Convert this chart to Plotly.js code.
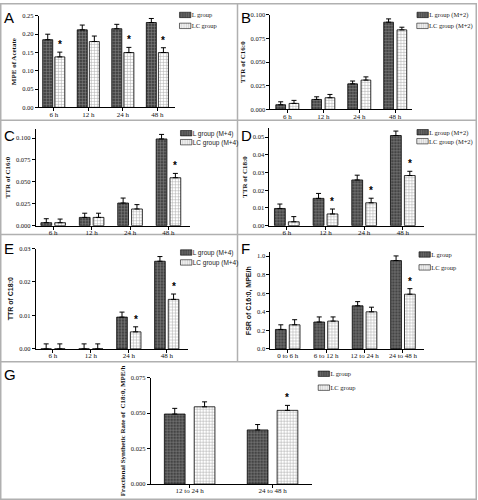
<!DOCTYPE html>
<html><head><meta charset="utf-8">
<script src="https://cdn.plot.ly/plotly-3.0.1.min.js"></script>
<style>html,body{margin:0;padding:0;background:#fff}#chart{width:478px;height:500px}</style>
</head><body><div id="chart"></div>
<script>
// ---------- data ----------
const catsTime = ['6 h', '12 h', '24 h', '48 h'];
const catsFSR = ['0 to 6 h', '6 to 12 h', '12 to 24 h', '24 to 48 h'];
const catsG = ['12 to 24 h', '24 to 48 h'];

const aL = [0.185, 0.212, 0.215, 0.232];
const aLerr = [0.015, 0.013, 0.012, 0.011];
const aLC = [0.138, 0.180, 0.150, 0.150];
const aLCerr = [0.013, 0.015, 0.014, 0.013];
const aStar = [1, 0, 1, 1];

const bL = [0.0049, 0.0105, 0.027, 0.0923];
const bLerr = [0.0031, 0.0028, 0.003, 0.0035];
const bLC = [0.0063, 0.0123, 0.031, 0.0842];
const bLCerr = [0.0032, 0.0035, 0.0034, 0.0028];
const bStar = [0, 0, 0, 0];

const cL = [0.0034, 0.0094, 0.0258, 0.0989];
const cLerr = [0.0045, 0.0048, 0.0057, 0.0052];
const cLC = [0.0034, 0.0094, 0.019, 0.0547];
const cLCerr = [0.0041, 0.0048, 0.005, 0.0049];
const cStar = [0, 0, 0, 1];

const dL = [0.0097, 0.0154, 0.0258, 0.0509];
const dLerr = [0.0025, 0.0028, 0.0027, 0.0025];
const dLC = [0.0022, 0.0066, 0.0129, 0.0283];
const dLCerr = [0.0029, 0.0028, 0.0026, 0.0024];
const dStar = [0, 1, 1, 1];

const eL = [0, 0, 0.0095, 0.0262];
const eLerr = [0.0015, 0.0015, 0.0015, 0.0014];
const eLC = [0, 0, 0.0051, 0.0148];
const eLCerr = [0.0015, 0.0015, 0.0015, 0.0016];
const eStar = [0, 0, 1, 1];

const fL = [0.21, 0.29, 0.465, 0.953];
const fLerr = [0.05, 0.055, 0.045, 0.05];
const fLC = [0.26, 0.30, 0.40, 0.59];
const fLCerr = [0.055, 0.045, 0.05, 0.06];
const fStar = [0, 0, 0, 1];

const gL = [0.0494, 0.0382];
const gLerr = [0.004, 0.0038];
const gLC = [0.0545, 0.052];
const gLCerr = [0.0035, 0.0035];
const gStar = [0, 1];

// ---------- layout helpers ----------
const W = 478, H = 500;
const px = x => x / W;
const py = y => 1 - y / H;
const SERIF = 'Liberation Serif, Times New Roman, serif';
const SANS = 'Liberation Sans, Arial, sans-serif';

const panels = [
  {id:1, letter:'A', lx:2, ly:15, cats:catsTime, L:aL, Le:aLerr, C:aLC, Ce:aLCerr, star:aStar,
   names:['L group','LC group'], lfont:SERIF, legY:[12,23], legX:192,
   xd:[39,175], yd:[13,105], xr:[-0.43,3.5], yr:[0,0.25], dt:0.05, fmt:'.2f',
   title:'MPE of Acetate', tfont:SERIF, bw:0.29, gap:0.06},
  {id:2, letter:'B', lx:240, ly:15, cats:catsTime, L:bL, Le:bLerr, C:bLC, Ce:bLCerr, star:bStar,
   names:['L group (M+2)','LC group (M+2)'], lfont:SERIF, legY:[12,23], legX:430,
   xd:[271,413], yd:[12,107], xr:[-0.47,3.47], yr:[0,0.1], dt:0.025, fmt:'.3f',
   title:'TTR of C16:0', tfont:SERIF, bw:0.27, gap:0.1},
  {id:3, letter:'C', lx:2, ly:133, cats:catsTime, L:cL, Le:cLerr, C:cLC, Ce:cLCerr, star:cStar,
   names:['L group (M+4)','LC group (M+4)'], lfont:SANS, legY:[131,140], legX:193,
   xd:[36,190], yd:[127,224], xr:[-0.45,3.55], yr:[0,0.11], dt:0.025, fmt:'.3f',
   title:'TTR of C16:0', tfont:SERIF, bw:0.28, gap:0.08},
  {id:4, letter:'D', lx:240, ly:133, cats:catsTime, L:dL, Le:dLerr, C:dLC, Ce:dLCerr, star:dStar,
   names:['L group (M+2)','LC group (M+2)'], lfont:SERIF, legY:[130,139], legX:430,
   xd:[270,425], yd:[126,224], xr:[-0.45,3.55], yr:[0,0.055], dt:0.01, fmt:'.2f',
   title:'TTR of C18:0', tfont:SERIF, bw:0.28, gap:0.08},
  {id:5, letter:'E', lx:2, ly:247, cats:catsTime, L:eL, Le:eLerr, C:eLC, Ce:eLCerr, star:eStar,
   names:['L group (M+4)','LC group (M+4)'], lfont:SANS, legY:[251,261], legX:193,
   xd:[36,188], yd:[247,348], xr:[-0.45,3.55], yr:[0,0.03], dt:0.01, fmt:'.2f',
   title:'TTR of C18:0', tfont:SANS, bw:0.28, gap:0.08},
  {id:6, letter:'F', lx:240, ly:247, cats:catsFSR, L:fL, Le:fLerr, C:fLC, Ce:fLCerr, star:fStar,
   names:['L group','LC group'], lfont:SERIF, legY:[253,266], legX:432,
   xd:[271,425], yd:[251,348], xr:[-0.45,3.55], yr:[0,1.04], dt:0.2, fmt:'.1f',
   title:'FSR of C16:0, MPE/h', tfont:SANS, bw:0.28, gap:0.08},
  {id:7, letter:'G', lx:2, ly:374, cats:catsG, L:gL, Le:gLerr, C:gLC, Ce:gLCerr, star:gStar,
   names:['L group','LC group'], lfont:SERIF, legY:[373,387], legX:331,
   xd:[151,313], yd:[377,484], xr:[-0.47,1.48], yr:[0,0.075], dt:0.025, fmt:'.3f',
   title:'Fractional Synthetic Rate of  C18:0, MPE/h', tfont:SERIF, bw:0.25, gap:0.11}
];

const data = [];
const layout = {
  width: W, height: H, margin:{l:0,r:0,t:0,b:0}, paper_bgcolor:'#fff', plot_bgcolor:'rgba(0,0,0,0)',
  barmode:'overlay', showlegend:true, annotations:[], shapes:[]
};

let legN = 0;
function legendName() { legN++; return legN === 1 ? 'legend' : 'legend' + legN; }

panels.forEach(p => {
  const xa = 'x' + (p.id === 1 ? '' : p.id), ya = 'y' + (p.id === 1 ? '' : p.id);
  const zeros = p.Le.map(() => 0);
  const lg1 = legendName(), lg2 = legendName();
  data.push({
    type:'bar', x:p.cats, y:p.L, xaxis:xa, yaxis:ya, name:p.names[0], legend:lg1,
    width:p.bw, offset:-(p.bw + p.gap/2),
    marker:{color:'#4a4a4a', pattern:{shape:'+', fgcolor:'#8a8a8a', bgcolor:'#444', size:3, solidity:0.3},
            line:{color:'#000', width:0.8}},
    error_y:{type:'data', symmetric:false, array:p.Le, arrayminus:zeros, color:'#000', thickness:1, width:2.5}
  });
  data.push({
    type:'bar', x:p.cats, y:p.C, xaxis:xa, yaxis:ya, name:p.names[1], legend:lg2,
    width:p.bw, offset:p.gap/2,
    marker:{color:'#fff', pattern:{shape:'+', fgcolor:'#a8a8a8', bgcolor:'#fff', size:3, solidity:0.3},
            line:{color:'#000', width:0.8}},
    error_y:{type:'data', symmetric:false, array:p.Ce, arrayminus:zeros, color:'#000', thickness:1, width:2.5}
  });
  [lg1, lg2].forEach((lg, i) => {
    layout[lg] = {x:px(p.legX - 40), y:py(p.legY[i]), xanchor:'left', yanchor:'middle',
      bgcolor:'rgba(0,0,0,0)', borderwidth:0, font:{family:p.lfont, size:6.5, color:'#222'}};
  });
  const tv = [];
  for (let v = 0; v <= p.yr[1] + 1e-9; v += p.dt) tv.push(+v.toFixed(4));
  layout['xaxis' + (p.id === 1 ? '' : p.id)] = {
    domain:[px(p.xd[0]), px(p.xd[1])], anchor:ya, type:'category', range:p.xr,
    showline:true, linecolor:'#000', linewidth:1, ticks:'outside', ticklen:3, tickwidth:1, tickcolor:'#000',
    ticklabelstandoff:-3,
    showgrid:false, zeroline:false, tickfont:{family:SERIF, size:7, color:'#111'}, fixedrange:true
  };
  layout['yaxis' + (p.id === 1 ? '' : p.id)] = {
    domain:[py(p.yd[1]), py(p.yd[0])], anchor:xa, range:p.yr, tickvals:tv, tickformat:p.fmt,
    showline:true, linecolor:'#000', linewidth:1, ticks:'outside', ticklen:3, tickwidth:1, tickcolor:'#000',
    showgrid:false, zeroline:false, tickfont:{family:SERIF, size:6.5, color:'#111'}, fixedrange:true,
    title:{text:p.title, font:{family:p.tfont, size:7, color:'#111', weight:'bold'}, standoff:4}
  };
  p.star.forEach((s, i) => {
    if (!s) return;
    layout.annotations.push({xref:xa, yref:ya, x:i + p.gap/2 + p.bw/2, y:p.C[i] + p.Ce[i],
      text:'*', showarrow:false, yanchor:'bottom', yshift:0, font:{family:SANS, size:10, color:'#000', weight:'bold'}});
  });
  layout.annotations.push({xref:'paper', yref:'paper', x:px(p.lx), y:py(p.ly), xanchor:'left', yanchor:'middle',
    text:p.letter, showarrow:false, font:{family:SANS, size:15, color:'#000'}});
});

const frame = {type:'line', xref:'paper', yref:'paper', line:{color:'#b0b0b0', width:1.5}, layer:'below'};
layout.shapes.push(Object.assign({}, frame, {x0:px(238), x1:px(238), y0:py(0), y1:py(361)}));
[118, 233, 361].forEach(y => layout.shapes.push(Object.assign({}, frame, {x0:0, x1:1, y0:py(y), y1:py(y)})));
layout.shapes.push({type:'rect', xref:'paper', yref:'paper', x0:px(0.75), x1:px(477.25), y0:py(0.75), y1:py(499.25),
  line:{color:'#b0b0b0', width:1.5}, layer:'below'});

// legend swatches: flatter boxes right next to the legend text, as in the reference
function fixLegendSwatches() {
  document.querySelectorAll('g.legendpoints path').forEach(el => {
    el.setAttribute('transform', 'translate(33.5,0) scale(0.95,0.45)');
  });
}
const gd = document.getElementById('chart');
const pr = Plotly.newPlot(gd, data, layout, {displayModeBar:false, staticPlot:true});
fixLegendSwatches();
pr.then(() => { fixLegendSwatches(); gd.on && gd.on('plotly_afterplot', fixLegendSwatches); });
setTimeout(fixLegendSwatches, 0);
setTimeout(fixLegendSwatches, 100);
setTimeout(fixLegendSwatches, 400);
</script></body></html>
